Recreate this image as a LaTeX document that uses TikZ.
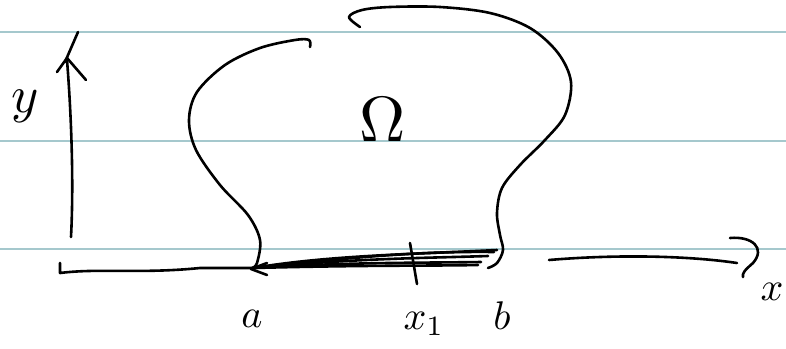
\documentclass[tikz,border=0pt]{standalone}
\usepackage{amsmath}

\definecolor{ruleblue}{RGB}{165,200,205}

\begin{document}
\begin{tikzpicture}[x=1pt, y=-1pt,
    pen/.style={line width=2.6pt, line cap=round, line join=round},
    lbl/.style={scale=4}]
  \useasboundingbox (0,0) rectangle (786,348);
  % ruled paper lines
  \foreach \yy in {32,141,249}
    \draw[ruleblue, line width=2.6pt] (0,\yy) -- (786,\yy);
  % y axis with scribbled head
  \coordinate (Y0) at (71,237);
  \coordinate (Y1) at (67,60);
  \draw[pen] (Y0) .. controls (74,180) and (71,110) .. (Y1);
  \draw[pen] (57,72) -- (67,58) -- (86,80);
  \draw[pen] (78,32) -- (65,62);
  \node[scale=5.2] (ylab) at (25,106) {$y$};
  % x axis, left piece
  \coordinate (A) at (253,268);
  \draw[pen] (60,263) -- (60,273)
    .. controls (100,268) and (140,274) .. (200,268) -- (A);
  \draw[pen] (267,263) -- (251,269) -- (267,275);
  % segment from a to b, drawn over several times
  \coordinate (B) at (497,250);
  \draw[pen] (A) .. controls (330,255) and (420,254) .. (B);
  \draw[pen] (A) .. controls (350,262) and (420,263) .. (481,262);
  \draw[pen] (A) .. controls (360,258) and (430,258) .. (488,256);
  \draw[pen] (A) .. controls (370,265) and (430,266) .. (478,265);
  \draw[pen] (A) .. controls (340,259) and (410,251) .. (494,252);
  % x axis, right piece
  \coordinate (X0) at (549,260);
  \coordinate (X1) at (737,263);
  \draw[pen] (X0) .. controls (620,254) and (690,256) .. (X1);
  \draw[pen] (730,238) .. controls (752,236) and (766,248) .. (753,263)
    .. controls (745,270) and (742,273) .. (743,277);
  \node[lbl] (xlab) at (772,292) {$x$};
  % tick at x_1
  \coordinate (T0) at (410,243);
  \coordinate (T1) at (417,284);
  \draw[pen] (T0) -- (T1);
  % labels under the axis
  \node[lbl] (alab) at (252,319) {$a$};
  \node[lbl] (x1lab) at (424,324) {$x_1$};
  \node[lbl] (blab) at (502,316) {$b$};
  % boundary of the region, left stroke
  \draw[pen] plot[smooth, tension=0.55] coordinates {
    (310,47) (309,40) (295,40) (260,48) (225,65) (197,92) (189,120)
    (196,150) (220,185) (248,215) (260,240) (257,263) (252,268)};
  % boundary of the region, right stroke
  \draw[pen] plot[smooth, tension=0.55] coordinates {
    (360,27) (349,17) (362,10) (390,7) (440,7) (490,13) (530,28)
    (558,53) (571,82) (565,115) (545,140) (520,165) (502,188)
    (497,213) (500,235) (503,250) (497,263) (488,268)};
  \node[scale=6.4] (omega) at (383,120) {$\Omega$};
\end{tikzpicture}
\end{document}
